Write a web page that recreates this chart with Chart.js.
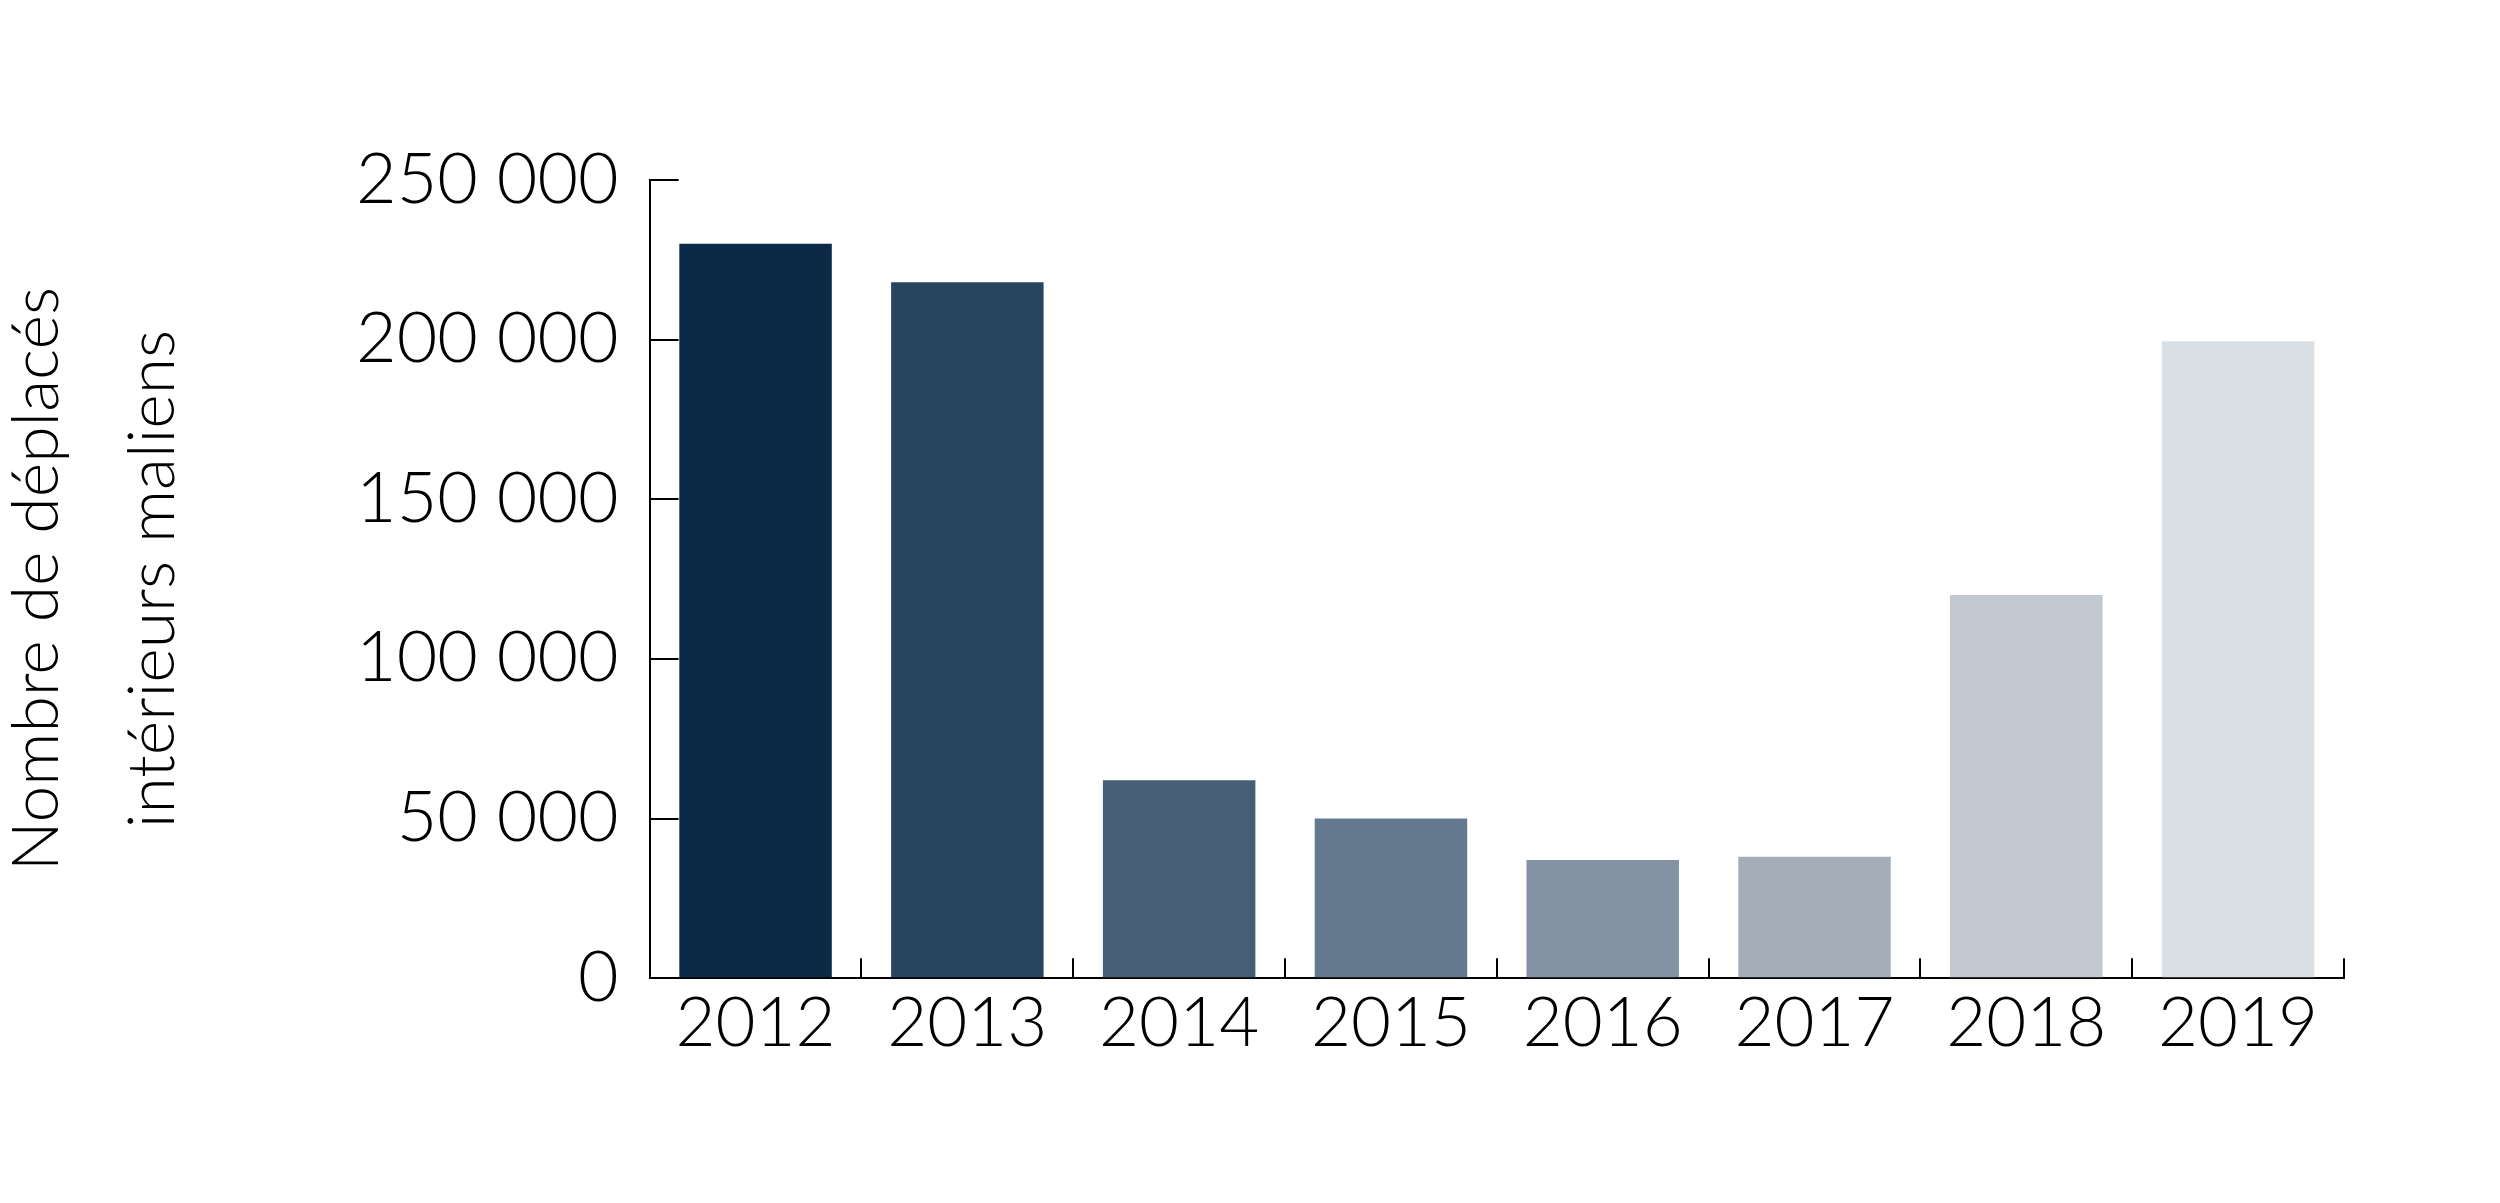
<!DOCTYPE html>
<html>
<head>
<meta charset="utf-8">
<script src="https://cdn.jsdelivr.net/npm/chart.js@4"></script>
<style>
html,body{margin:0;padding:0;background:#fff;}
#wrap{width:2500px;height:1203px;}
</style>
</head>
<body>
<div id="wrap"><canvas id="c" width="2500" height="1203"></canvas></div>
<script>
const years = ['2012','2013','2014','2015','2016','2017','2018','2019'];
const displaced = [230000, 218000, 62000, 50000, 37000, 38000, 120000, 199500];
const barColors = ['#0b2a47','#27455f','#465f77','#64798e','#8493a3','#a3aeb9','#c1c8d0','#dadfe3'];
const yTitle = ['Nombre de déplacés','intérieurs maliens'];

function fmt(v){ return String(v).replace(/\B(?=(\d{3})+(?!\d))/g, ' '); }

Chart.defaults.font.family = "Lato, 'Open Sans', sans-serif";
Chart.defaults.font.weight = 300;
Chart.defaults.color = '#000';

new Chart(document.getElementById('c'), {
  type: 'bar',
  data: {
    labels: years,
    datasets: [{
      data: displaced,
      backgroundColor: barColors,
      borderWidth: 0,
      categoryPercentage: 1,
      barPercentage: 0.72
    }]
  },
  options: {
    responsive: false,
    animation: false,
    devicePixelRatio: 1,
    layout: { padding: { top: 180, right: 156, bottom: 114, left: 0 } },
    plugins: { legend: { display: false }, tooltip: { enabled: false } },
    scales: {
      x: {
        grid: { drawOnChartArea: false, drawTicks: true, tickLength: -20, color: '#000', lineWidth: 2 },
        border: { display: true, color: '#000', width: 2 },
        ticks: { font: { size: 69, weight: 300 }, padding: 24, color: '#000' }
      },
      y: {
        min: 0, max: 250000,
        grid: { drawOnChartArea: false, drawTicks: true, tickLength: -29, color: '#000', lineWidth: 2 },
        border: { display: true, color: '#000', width: 2 },
        ticks: { stepSize: 50000, font: { size: 70, weight: 300 }, padding: 60, color: '#000', callback: (v) => fmt(v) },
        title: { display: true, text: yTitle, font: { size: 66, weight: 300, lineHeight: 1.758 }, color: '#000', padding: { top: -21, bottom: 85 } }
      }
    }
  }
});
</script>
</body>
</html>
